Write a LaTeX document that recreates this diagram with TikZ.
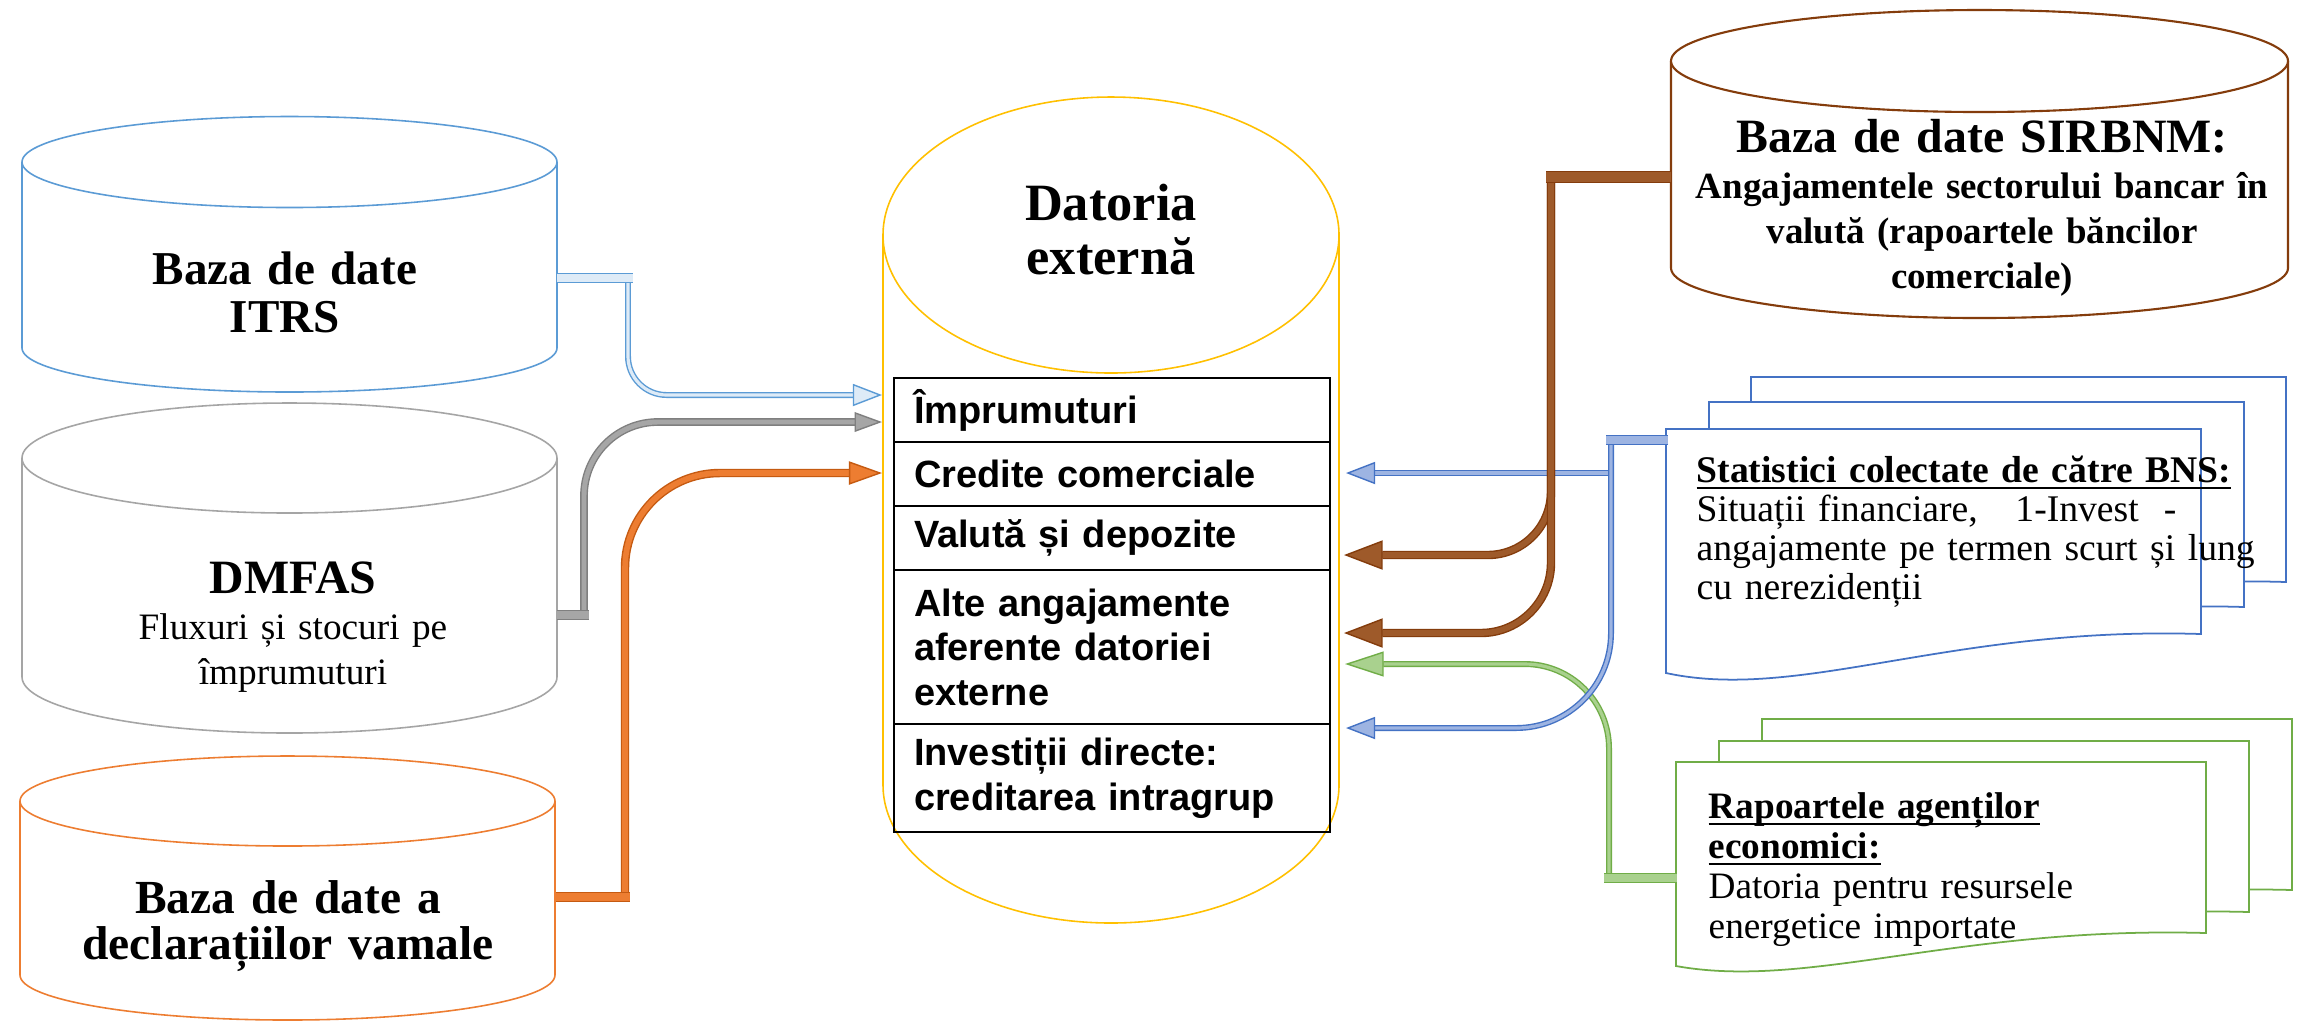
\documentclass[tikz,border=0pt]{standalone}
\usepackage{fontspec}
\setmainfont{Liberation Serif}
\setsansfont{Liberation Sans}
\usetikzlibrary{arrows.meta,positioning}

\newsavebox{\ulbox}
\newcommand{\ulin}[1]{\leavevmode\sbox{\ulbox}{#1}\rlap{\usebox{\ulbox}}\rule[-1.85pt]{\wd\ulbox}{0.55pt}}

\definecolor{itrsblue}{HTML}{5B9BD5}
\definecolor{itrsfill}{HTML}{DEEBF7}
\definecolor{dmgray}{HTML}{A5A5A5}
\definecolor{dmdark}{HTML}{7F7F7F}
\definecolor{dmfill}{HTML}{A6A6A6}
\definecolor{vamorange}{HTML}{ED7D31}
\definecolor{vamdark}{HTML}{C55A11}
\definecolor{datyellow}{HTML}{FFC000}
\definecolor{sirbrown}{HTML}{843C0C}
\definecolor{sirfill}{HTML}{9E5A2A}
\definecolor{bnsblue}{HTML}{4472C4}
\definecolor{bnsfill}{HTML}{9DB4E2}
\definecolor{aggreen}{HTML}{70AD47}
\definecolor{agfill}{HTML}{A9D18E}

\begin{document}
\begin{tikzpicture}[x=0.01cm, y=-0.01cm,
  drum/.style={draw=#1, fill=white, line width=0.45pt},
  page/.style={draw=#1, fill=white, line width=0.5pt},
  cell/.style={draw, line width=0.6pt, outer sep=0pt, inner xsep=5.7pt, inner ysep=1pt,
    text width=112.7pt, align=left, font=\fontsize{10.8}{12.66}\selectfont\sffamily\bfseries},
  title/.style={anchor=base, inner sep=0pt, text width=180pt, align=center,
    font=\fontsize{13.4}{13.9}\selectfont\bfseries},
  subtitle/.style={anchor=base, inner sep=0pt, text width=180pt, align=center,
    font=\fontsize{10.6}{12.8}\selectfont},
  doctext/.style={anchor=base west, inner sep=0pt, text width=175pt, align=left,
    font=\fontsize{10.7}{11.1}\selectfont},
  flow/.style 2 args={draw=#1, double=#2, line width=0.4pt, double distance=0.9pt},
  stub/.style 2 args={draw=#1, double=#2, line width=0.4pt, double distance=2.1pt, shorten >=-1.5pt},
  tipped/.style n args={4}{-{Triangle[length=#1, width=#2, fill=#3, color=#4, line width=0.4pt]}}
]
\fill[white, use as bounding box] (0,0) rectangle (2300,1026);

% sources on the left
\draw[drum=itrsblue] (22,162) -- (22,348) arc[start angle=180, end angle=0, x radius=267.5, y radius=44] -- (557,162);
\draw[drum=itrsblue] (289.5,162) ellipse[x radius=267.5, y radius=45.5];
\draw[drum=dmgray] (22,458) -- (22,677) arc[start angle=180, end angle=0, x radius=267.5, y radius=56] -- (557,458);
\draw[drum=dmgray] (289.5,458) ellipse[x radius=267.5, y radius=55];
\draw[drum=vamorange] (20,801) -- (20,975) arc[start angle=180, end angle=0, x radius=267.5, y radius=45] -- (555,801);
\draw[drum=vamorange] (287.5,801) ellipse[x radius=267.5, y radius=45];

% external debt
\draw[drum=datyellow] (883,235) -- (883,785) arc[start angle=180, end angle=0, x radius=228, y radius=138] -- (1339,235);
\draw[drum=datyellow] (1111,235) ellipse[x radius=228, y radius=138];

% sources on the right
\draw[drum=sirbrown, line width=0.6pt] (1671,61) -- (1671,268) arc[start angle=180, end angle=0, x radius=308.5, y radius=50] -- (2288,61);
\draw[drum=sirbrown, line width=0.6pt] (1979.5,61) ellipse[x radius=308.5, y radius=51];

\draw[page=bnsblue] (1751,377) -- (2286,377) -- (2286,582) .. controls +(-251,-8) and +(134,29) .. (1751,621) -- cycle;
\draw[page=bnsblue] (1709,402) -- (2244,402) -- (2244,607) .. controls +(-251,-8) and +(134,29) .. (1709,646) -- cycle;
\draw[page=bnsblue] (1666,429) -- (2201,429) -- (2201,634) .. controls +(-251,-8) and +(134,29) .. (1666,673) -- cycle;

\draw[page=aggreen] (1762,719) -- (2292,719) -- (2292,890) .. controls +(-249,-7) and +(133,24) .. (1762,923) -- cycle;
\draw[page=aggreen] (1719,741) -- (2249,741) -- (2249,912) .. controls +(-249,-7) and +(133,24) .. (1719,945) -- cycle;
\draw[page=aggreen] (1676,762) -- (2206,762) -- (2206,933) .. controls +(-249,-7) and +(133,24) .. (1676,966) -- cycle;

% components
\node[cell, minimum height=18.2pt, anchor=north west] (impr) at (894,378) {Împrumuturi};
\node[cell, minimum height=18.2pt, below=0pt of impr] (cred) {Credite comerciale};
\node[cell, minimum height=18.2pt, below=0pt of cred] (valuta) {Valută și depozite};
\node[cell, minimum height=43.8pt, below=0pt of valuta] (alte) {Alte angajamente\\aferente datoriei\\externe};
\node[cell, minimum height=30.7pt, below=0pt of alte] (idir) {Investiții directe:\\creditarea intragrup};

% texts
\node[title, font=\fontsize{14.9}{15.4}\selectfont\bfseries] (datoria) at (1111,220) {Datoria\\externă};
\node[title] (itrs) at (285,284) {Baza de date\\ITRS};
\node[title, font=\fontsize{13.6}{13.6}\selectfont\bfseries] (dmfas) at (293,593) {DMFAS};
\node[subtitle] (dmfasSub) at (293,639) {Fluxuri și stocuri pe\\împrumuturi};
\node[title, font=\fontsize{13.5}{13.1}\selectfont\bfseries] (vamale) at (288,913) {Baza de date a\\declarațiilor vamale};
\node[title, font=\fontsize{13.6}{13.6}\selectfont\bfseries] (sirbnm) at (1982,152) {Baza de date SIRBNM:};
\node[subtitle, font=\fontsize{10.5}{12.8}\selectfont\bfseries] (sirbnmSub) at (1982,198) {Angajamentele sectorului bancar în\\valută (rapoartele băncilor\\comerciale)};
\node[doctext] (bns) at (1696,482) {\ulin{\textbf{Statistici colectate de către BNS:}}\\Situații financiare,\ \ \ 1-Invest\ \ -\\angajamente pe termen scurt și lung\\cu nerezidenții};
\node[doctext, font=\fontsize{10.6}{11.4}\selectfont] (agenti) at (1708,818) {\ulin{\textbf{Rapoartele agenților}}\\\ulin{\textbf{economici:}}\\Datoria pentru resursele\\energetice importate};

% connector ends
\coordinate (itrsOut) at (557,278);
\coordinate (itrsKnee) at (628,278);
\coordinate (inItrs) at (882,395);
\coordinate (dmOut) at (557,615);
\coordinate (dmKnee) at (584,615);
\coordinate (inDm) at (882,422);
\coordinate (vamOut) at (556,897);
\coordinate (vamKnee) at (625,897);
\coordinate (inVam) at (882,473);
\coordinate (sirOut) at (1671,177);
\coordinate (sirKnee) at (1551,177);
\coordinate (inSir1) at (1344,555);
\coordinate (inSir2) at (1344,633);
\coordinate (bnsOut) at (1668,440);
\coordinate (bnsKnee) at (1611,440);
\coordinate (inBns1) at (1346,473);
\coordinate (inBns2) at (1346,728);
\coordinate (agOut) at (1677,878);
\coordinate (agKnee) at (1609,878);
\coordinate (inAg) at (1345,664);

% connectors
\draw[flow={itrsblue}{itrsfill}, rounded corners=11pt, tipped={8.3pt}{6.3pt}{itrsfill}{itrsblue}] (itrsKnee) |- (inItrs);
\draw[stub={itrsblue}{itrsfill}] (itrsOut) -- (itrsKnee);
\draw[flow={dmdark}{dmfill}, double distance=1.4pt, rounded corners=21pt, tipped={7.8pt}{5.6pt}{dmfill}{dmdark}] (dmKnee) |- (inDm);
\draw[stub={dmdark}{dmfill}] (dmOut) -- (dmKnee);
\draw[flow={vamdark}{vamorange}, double distance=1.6pt, rounded corners=27pt, tipped={9.4pt}{6.6pt}{vamorange}{vamdark}] (vamKnee) |- (inVam);
\draw[stub={vamdark}{vamorange}, double distance=2.3pt] (vamOut) -- (vamKnee);

\draw[flow={aggreen}{agfill}, rounded corners=24pt, tipped={11pt}{7.1pt}{agfill}{aggreen}] (agKnee) |- (inAg);
\draw[stub={aggreen}{agfill}] (agOut) -- (agKnee);
\draw[flow={bnsblue}{bnsfill}, tipped={8.3pt}{6.3pt}{bnsfill}{bnsblue}] (bnsKnee) |- (inBns1);
\draw[flow={bnsblue}{bnsfill}, rounded corners=27pt, tipped={8.3pt}{6.3pt}{bnsfill}{bnsblue}] (bnsKnee) |- (inBns2);
\draw[stub={bnsblue}{bnsfill}] (bnsOut) -- (bnsKnee);
\draw[flow={sirbrown}{sirfill}, double distance=1.6pt, rounded corners=18pt, tipped={11pt}{8.3pt}{sirfill}{sirbrown}] (sirKnee) |- (inSir1);
\draw[flow={sirbrown}{sirfill}, double distance=1.6pt, rounded corners=20pt, tipped={11pt}{8.3pt}{sirfill}{sirbrown}] (sirKnee) |- (inSir2);
\draw[stub={sirbrown}{sirfill}, double distance=2.6pt] (sirOut) -- (sirKnee);
\end{tikzpicture}
\end{document}
